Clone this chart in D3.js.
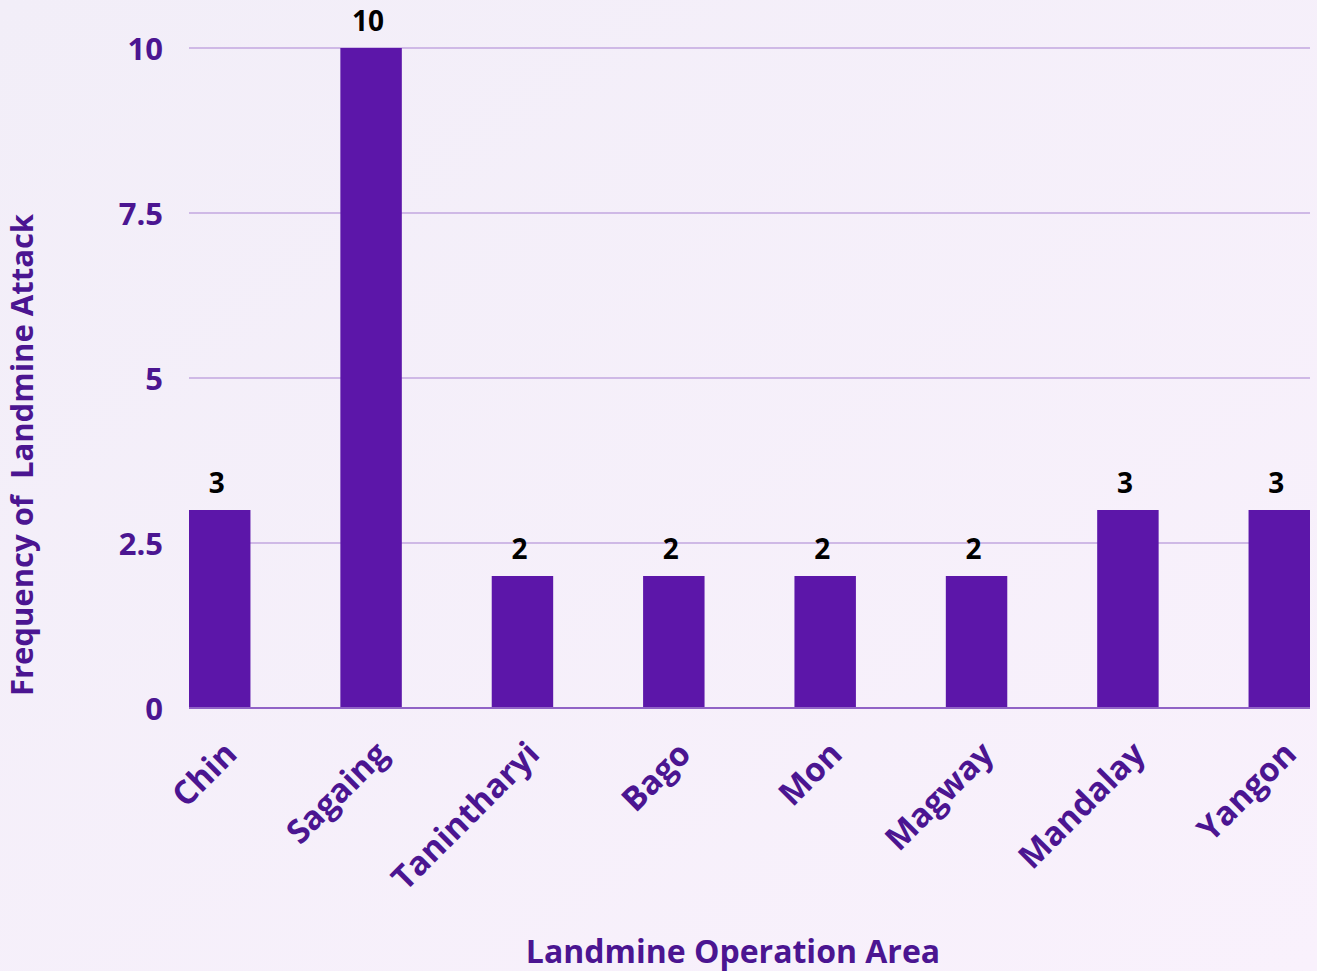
<!DOCTYPE html>
<html>
<head>
<meta charset="utf-8">
<script src="https://cdn.jsdelivr.net/npm/d3@7"></script>
<style>
  html, body { margin: 0; padding: 0; }
  body { width: 1317px; height: 971px; overflow: hidden; font-family: "Open Sans", sans-serif; }
  svg text { font-family: "Open Sans", sans-serif; font-weight: 700; }
</style>
</head>
<body>
<svg id="chart" width="1317" height="971"></svg>
<script>
// data
var areas = ["Chin", "Sagaing", "Tanintharyi", "Bago", "Mon", "Magway", "Mandalay", "Yangon"];
var attacks = [3, 10, 2, 2, 2, 2, 3, 3];
var yTicks = [0, 2.5, 5, 7.5, 10];

var svg = d3.select("#chart");
var W = 1317, H = 971;
var margin = {top: 48, right: 7, bottom: 263, left: 189};

// background gradient
var defs = svg.append("defs");
var grad = defs.append("linearGradient").attr("id", "bg")
    .attr("x1", "0").attr("y1", "0").attr("x2", "1").attr("y2", "1");
grad.append("stop").attr("offset", "0").attr("stop-color", "#f2eef8");
grad.append("stop").attr("offset", "1").attr("stop-color", "#f9f1fc");
svg.append("rect").attr("width", W).attr("height", H).attr("fill", "url(#bg)");

var x = d3.scaleBand()
    .domain(areas)
    .range([margin.left, W - margin.right])
    .paddingInner(0.594)
    .paddingOuter(0);

var y = d3.scaleLinear()
    .domain([0, 10])
    .range([H - margin.bottom, margin.top]);

// gridlines
svg.append("g")
    .selectAll("line")
    .data(yTicks.filter(function(d) { return d > 0; }))
    .join("line")
    .attr("x1", margin.left).attr("x2", W - margin.right)
    .attr("y1", function(d) { return y(d); })
    .attr("y2", function(d) { return y(d); })
    .attr("stroke", "#cfb9e6")
    .attr("stroke-width", 2);

// y axis labels
var yAxis = svg.append("g")
    .attr("transform", "translate(" + margin.left + ",0)")
    .call(d3.axisLeft(y).tickValues(yTicks).tickSize(0).tickPadding(26)
        .tickFormat(function(d) { return d; }));
yAxis.select(".domain").remove();
yAxis.selectAll("text")
    .attr("fill", "#4b1591")
    .attr("dy", "0.38em")
    .style("font-size", "31px")
    .style("font-family", "'Open Sans', sans-serif")
    .style("font-weight", 700);

// bars
svg.append("g")
    .selectAll("rect")
    .data(attacks)
    .join("rect")
    .attr("x", function(d, i) { return x(areas[i]); })
    .attr("y", function(d) { return y(d); })
    .attr("width", x.bandwidth())
    .attr("height", function(d) { return y(0) - y(d); })
    .attr("fill", "#5c16a9");

// baseline
svg.append("line")
    .attr("x1", margin.left).attr("x2", W - margin.right)
    .attr("y1", y(0)).attr("y2", y(0))
    .attr("stroke", "#9163c6")
    .attr("stroke-width", 2);

// value labels
svg.append("g")
    .selectAll("text")
    .data(attacks)
    .join("text")
    .attr("x", function(d, i) { return x(areas[i]) + x.bandwidth() / 2 - 3; })
    .attr("y", function(d) { return y(d) - 17; })
    .attr("text-anchor", "middle")
    .attr("fill", "#000")
    .style("font-size", "28px")
    .text(function(d) { return d; });

// x axis labels
var xAxis = svg.append("g")
    .attr("transform", "translate(0," + y(0) + ")")
    .call(d3.axisBottom(x).tickSize(0).tickPadding(0));
xAxis.select(".domain").remove();
xAxis.selectAll("text")
    .attr("fill", "#4b1591")
    .style("font-size", "33px")
    .style("font-family", "'Open Sans', sans-serif")
    .style("font-weight", 700)
    .attr("text-anchor", "end")
    .attr("dy", "0")
    .attr("transform", "translate(19,48) rotate(-45)");

// axis titles
svg.append("text")
    .attr("x", 733)
    .attr("y", 963)
    .attr("text-anchor", "middle")
    .attr("fill", "#4b1591")
    .style("font-size", "32px")
    .text("Landmine Operation Area");

svg.append("text")
    .attr("transform", "translate(33," + 455 + ") rotate(-90)")
    .attr("text-anchor", "middle")
    .attr("fill", "#4b1591")
    .style("font-size", "31px")
    .style("white-space", "pre")
    .text("Frequency of  Landmine Attack");
</script>
</body>
</html>
